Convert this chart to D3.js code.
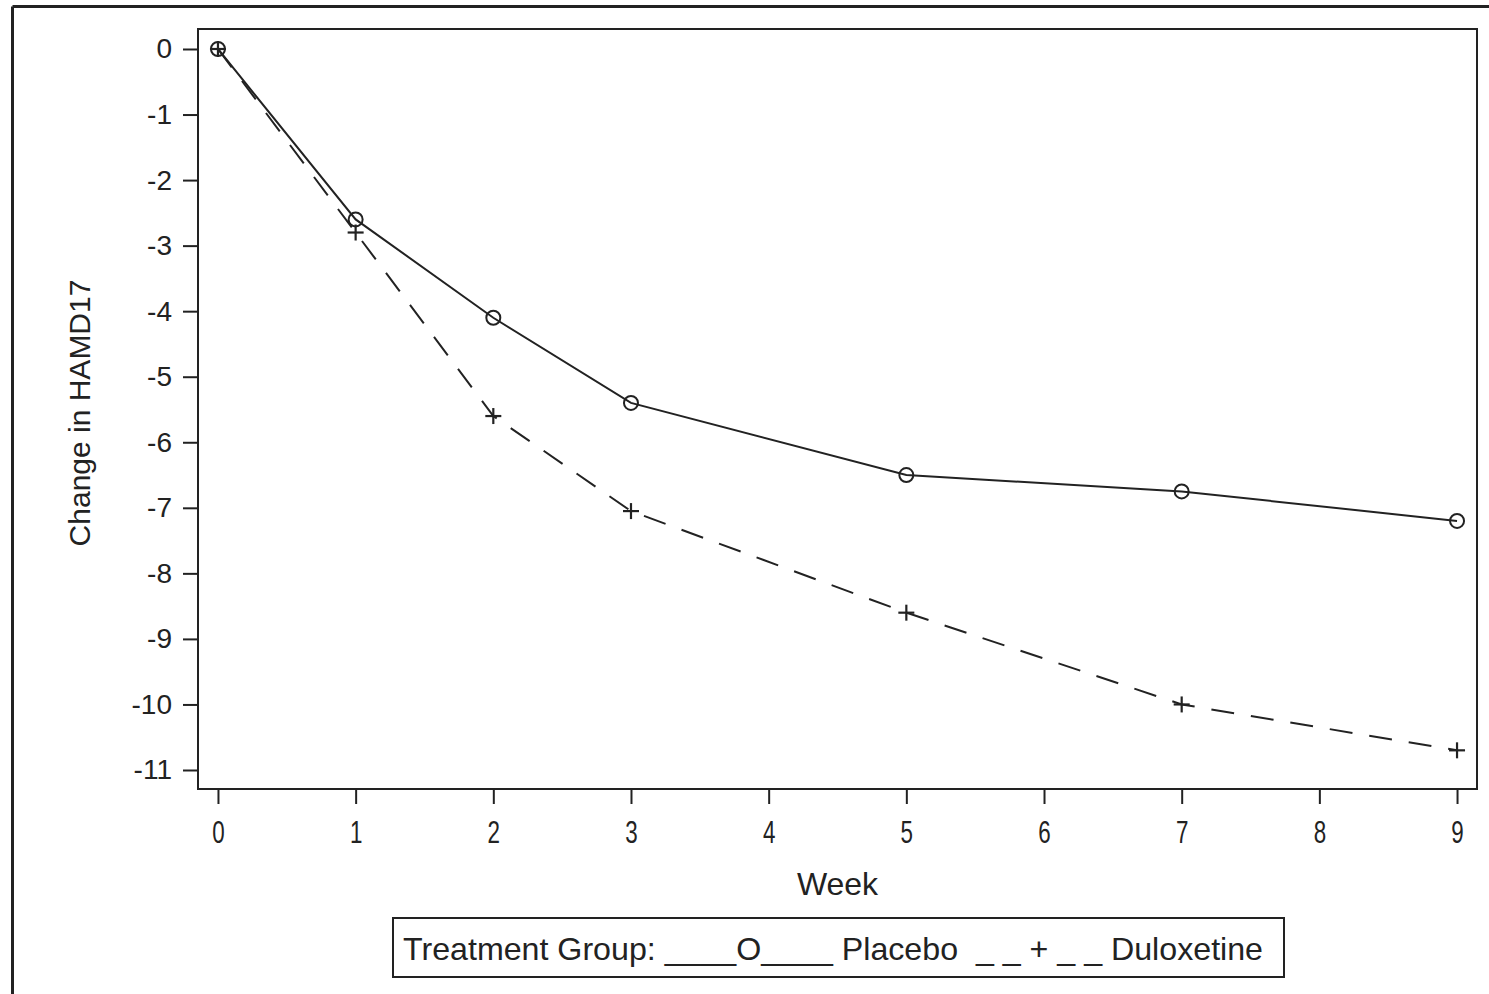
<!DOCTYPE html>
<html>
<head>
<meta charset="utf-8">
<script src="https://cdn.jsdelivr.net/npm/d3@7"></script>
<style>
  body { margin: 0; background: #fff; }
  svg { display: block; font-family: "Liberation Sans", Arial, sans-serif; }
</style>
</head>
<body>
<svg id="chart" width="1489" height="994"></svg>
<script>
// data
const weeks = [0, 1, 2, 3, 5, 7, 9];
const placebo = [0, -2.6, -4.1, -5.4, -6.5, -6.75, -7.2];
const duloxetine = [0, -2.8, -5.6, -7.05, -8.6, -10.0, -10.7];
const xTicks = [0, 1, 2, 3, 4, 5, 6, 7, 8, 9];
const yTicks = [0, -1, -2, -3, -4, -5, -6, -7, -8, -9, -10, -11];
const legendText = "Treatment Group: ____O____ Placebo  _ _ + _ _ Duloxetine";

const svg = d3.select("#chart");
const ink = "#222";

// plot frame
const frame = { left: 198, top: 29, right: 1477, bottom: 789 };

const x = d3.scaleLinear().domain([-0.145, 9.145]).range([frame.left, frame.right]);
const y = d3.scaleLinear().domain([0.305, -11.29]).range([frame.top, frame.bottom]);

// outer page border (left + top only)
svg.append("line").attr("x1", 12.5).attr("y1", 6.5).attr("x2", 1489).attr("y2", 6.5)
  .attr("stroke", ink).attr("stroke-width", 3);
svg.append("line").attr("x1", 12.5).attr("y1", 6.5).attr("x2", 12.5).attr("y2", 994)
  .attr("stroke", ink).attr("stroke-width", 3);

// axes
const yAxis = svg.append("g")
  .attr("transform", `translate(${frame.left},0)`)
  .call(d3.axisLeft(y).tickValues(yTicks).tickSize(15).tickPadding(11).tickFormat(d3.format("d")));
yAxis.select(".domain").remove();
yAxis.selectAll("line").attr("stroke", ink).attr("stroke-width", 2);
yAxis.selectAll("text").attr("font-size", 28).attr("fill", ink)
  .attr("font-family", "'Liberation Sans', Arial, sans-serif").text(d => d === 0 ? "0" : String(d).replace("−", "-"));

const xAxis = svg.append("g")
  .attr("transform", `translate(0,${frame.bottom})`)
  .call(d3.axisBottom(x).tickValues(xTicks).tickSize(15).tickFormat(d3.format("d")));
xAxis.select(".domain").remove();
xAxis.selectAll("line").attr("stroke", ink).attr("stroke-width", 2);
xAxis.selectAll("text")
  .attr("font-size", 32).attr("fill", ink)
  .attr("font-family", "'Liberation Sans', Arial, sans-serif")
  .attr("y", 54).attr("dy", 0)
  .attr("transform", "scale(0.7,1)");

// frame rectangle
svg.append("rect")
  .attr("x", frame.left).attr("y", frame.top)
  .attr("width", frame.right - frame.left).attr("height", frame.bottom - frame.top)
  .attr("fill", "none").attr("stroke", ink).attr("stroke-width", 2);

// axis titles
svg.append("text")
  .attr("x", (frame.left + frame.right) / 2).attr("y", 895)
  .attr("text-anchor", "middle").attr("font-size", 32).attr("fill", ink)
  .text("Week");

svg.append("text")
  .attr("transform", `translate(90,${(frame.top + frame.bottom) / 2 + 4}) rotate(-90)`)
  .attr("text-anchor", "middle").attr("font-size", 30).attr("fill", ink)
  .text("Change in HAMD17");

// lines
const line = d3.line().x(d => x(d[0])).y(d => y(d[1]));
const placeboPts = weeks.map((w, i) => [w, placebo[i]]);
const duloxPts = weeks.map((w, i) => [w, duloxetine[i]]);

svg.append("path").datum(placeboPts).attr("d", line)
  .attr("fill", "none").attr("stroke", ink).attr("stroke-width", 2);
svg.append("path").datum(duloxPts).attr("d", line)
  .attr("fill", "none").attr("stroke", ink).attr("stroke-width", 2)
  .attr("stroke-dasharray", "23,17");

// markers
svg.append("g").selectAll("circle").data(placeboPts).join("circle")
  .attr("cx", d => x(d[0])).attr("cy", d => y(d[1])).attr("r", 7)
  .attr("fill", "none").attr("stroke", ink).attr("stroke-width", 2);

const plus = svg.append("g").selectAll("g").data(duloxPts).join("g")
  .attr("transform", d => `translate(${x(d[0])},${y(d[1])})`);
plus.append("line").attr("x1", -8).attr("x2", 8).attr("stroke", ink).attr("stroke-width", 2.2);
plus.append("line").attr("y1", -8).attr("y2", 8).attr("stroke", ink).attr("stroke-width", 2.2);

// legend
svg.append("rect").attr("x", 393).attr("y", 918).attr("width", 891).attr("height", 59)
  .attr("fill", "none").attr("stroke", ink).attr("stroke-width", 2);
svg.append("text").attr("x", 403).attr("y", 960)
  .attr("font-size", 32).attr("fill", ink)
  .attr("textLength", 860).attr("lengthAdjust", "spacingAndGlyphs")
  .style("white-space", "pre")
  .text(legendText);
</script>
</body>
</html>
